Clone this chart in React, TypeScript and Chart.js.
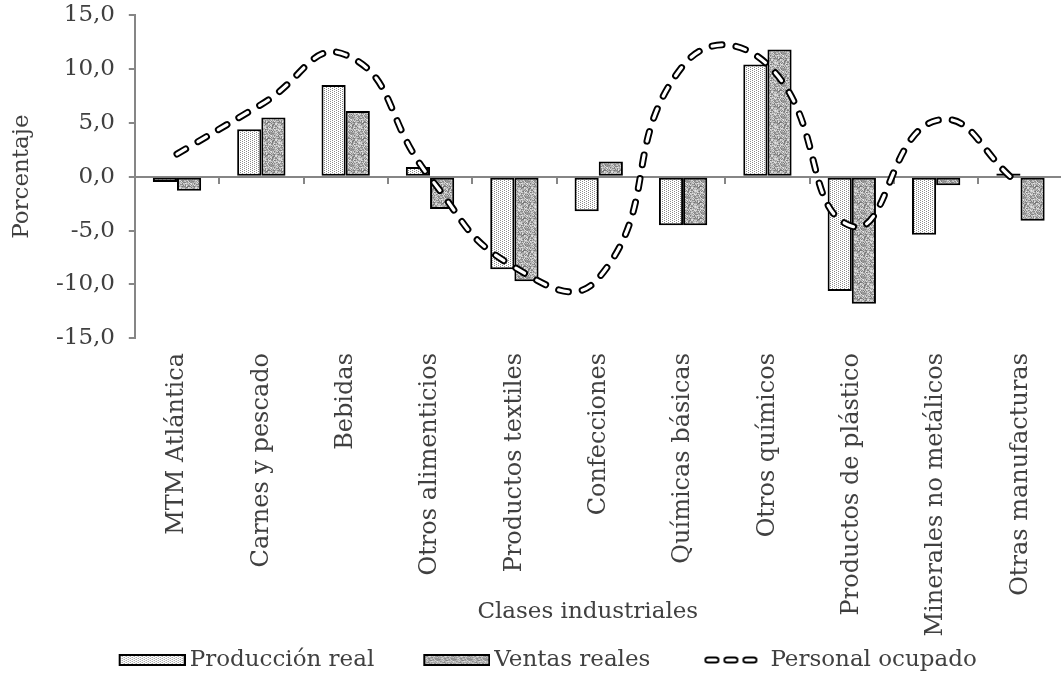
import React, { useEffect, useRef } from 'react';
import { Chart, registerables } from 'chart.js';

Chart.register(...registerables);

const FONT = 'DejaVu Serif';
const TEXT = '#404040';
const AXIS = '#868686';

const categories = [
  'MTM Atlántica',
  'Carnes y pescado',
  'Bebidas',
  'Otros alimenticios',
  'Productos textiles',
  'Confecciones',
  'Químicas básicas',
  'Otros químicos',
  'Productos de plástico',
  'Minerales no metálicos',
  'Otras manufacturas',
];
const produccionReal = [-0.5, 4.4, 8.5, 0.9, -8.6, -3.2, -4.5, 10.4, -10.6, -5.4, 0.3];
const ventasReales = [-1.3, 5.5, 6.1, -3.0, -9.7, 1.4, -4.5, 11.8, -11.8, -0.8, -4.1];
const personalOcupado = [2.1, 6.7, 11.3, -0.1, -8.4, -9.4, 10.3, 10.4, -4.6, 5.2, -0.8];
const yTicks = [-15, -10, -5, 0, 5, 10, 15];
const seriesNames = ['Producción real', 'Ventas reales', 'Personal ocupado'];
const xTitle = 'Clases industriales';
const yTitle = 'Porcentaje';

const LEG_W = 101; // legend slot width
const LEG_IMG_W = LEG_W + 15;
const PAD_LEFT = -10;
const Y_AXIS_W = 134.8 - PAD_LEFT;

function prodTile(): HTMLCanvasElement {
  const c = document.createElement('canvas');
  c.width = 4;
  c.height = 4;
  const g = c.getContext('2d')!;
  g.fillStyle = '#ffffff';
  g.fillRect(0, 0, 4, 4);
  g.fillStyle = '#8a8a8a';
  [[0, 0], [2, 1], [0, 2], [2, 3]].forEach(([x, y]) => g.fillRect(x, y, 1, 1));
  return c;
}

function ventasTile(): HTMLCanvasElement {
  const c = document.createElement('canvas');
  c.width = 16;
  c.height = 16;
  const g = c.getContext('2d')!;
  let s = 12345;
  for (let y = 0; y < 16; y++) {
    for (let x = 0; x < 16; x++) {
      s = (Math.imul(s, 1103515245) + 12345) >>> 0;
      const v = 115 + ((s >>> 8) % 115);
      g.fillStyle = `rgb(${v},${v},${v})`;
      g.fillRect(x, y, 1, 1);
    }
  }
  return c;
}

function legendBox(tile: HTMLCanvasElement): HTMLCanvasElement {
  const c = document.createElement('canvas');
  c.width = LEG_IMG_W;
  c.height = 12;
  const g = c.getContext('2d')!;
  const x0 = LEG_IMG_W - 67;
  g.fillStyle = g.createPattern(tile, 'repeat')!;
  g.fillRect(x0, 0, 67, 12);
  g.strokeStyle = '#000';
  g.lineWidth = 2;
  g.strokeRect(x0 + 1, 1, 65, 10);
  return c;
}

function legendLine(): HTMLCanvasElement {
  const c = document.createElement('canvas');
  c.width = LEG_IMG_W;
  c.height = 12;
  const g = c.getContext('2d')!;
  g.lineCap = 'round';
  const end = LEG_IMG_W - 9;
  [end - 53, end - 34, end - 15].forEach((a) => {
    g.strokeStyle = '#000';
    g.lineWidth = 7;
    g.beginPath();
    g.moveTo(a + 3.5, 6);
    g.lineTo(a + 11.5, 6);
    g.stroke();
    g.strokeStyle = '#fff';
    g.lineWidth = 3.2;
    g.beginPath();
    g.moveTo(a + 3.5, 6);
    g.lineTo(a + 11.5, 6);
    g.stroke();
  });
  return c;
}

export default function App() {
  const ref = useRef<HTMLCanvasElement>(null);

  useEffect(() => {
    const canvas = ref.current!;
    const ctx = canvas.getContext('2d')!;
    Chart.defaults.font.family = FONT;
    const pTile = prodTile();
    const vTile = ventasTile();
    const prodPattern = ctx.createPattern(pTile, 'repeat');
    const ventPattern = ctx.createPattern(vTile, 'repeat');
    const legendImgs = [legendBox(pTile), legendBox(vTile), legendLine()];

    const lineCommon = {
      borderDash: [10, 14],
      borderCapStyle: 'round',
      borderJoinStyle: 'round',
      tension: 0.5,
      pointRadius: 0,
      pointHoverRadius: 0,
      fill: false,
    };

    const chart = new Chart(ctx, {
      type: 'bar',
      data: {
        labels: categories,
        datasets: [
          {
            type: 'bar',
            label: seriesNames[0],
            data: produccionReal,
            backgroundColor: prodPattern,
            borderColor: '#000',
            borderWidth: 2,
            borderSkipped: false,
            barPercentage: 1,
            categoryPercentage: 0.573,
            order: 2,
          },
          {
            type: 'bar',
            label: seriesNames[1],
            data: ventasReales,
            backgroundColor: ventPattern,
            borderColor: '#000',
            borderWidth: 2,
            borderSkipped: false,
            barPercentage: 1,
            categoryPercentage: 0.573,
            order: 2,
          },
          {
            type: 'line',
            label: seriesNames[2],
            data: personalOcupado,
            borderColor: '#000000',
            borderWidth: 7,
            order: 1,
            ...lineCommon,
          },
          {
            type: 'line',
            label: '_inner',
            data: personalOcupado,
            borderColor: '#ffffff',
            borderWidth: 3.2,
            order: 0,
            ...lineCommon,
          },
        ],
      } as any,
      options: {
        responsive: false,
        animation: false,
        devicePixelRatio: 1,
        events: [],
        layout: { padding: { left: PAD_LEFT, top: 15, right: 0, bottom: 8.5 } },
        scales: {
          x: {
            type: 'category',
            position: 'bottom',
            offset: true,
            afterFit: (s: any) => {
              s.height = 302.7;
            },
            border: { display: false },
            grid: { display: false, drawTicks: false },
            ticks: {
              autoSkip: false,
              minRotation: 90,
              maxRotation: 90,
              padding: 14.7,
              color: TEXT,
              font: { family: FONT, size: 24 },
            },
            title: {
              display: true,
              text: xTitle + '\u00a0\u00a0\u00a0',
              color: TEXT,
              font: { family: FONT, size: 23 },
              padding: { top: 0, bottom: 15.2 },
            },
          },
          x2: {
            type: 'category',
            position: { y: 0 },
            offset: true,
            grid: {
              offset: true,
              drawOnChartArea: false,
              drawTicks: true,
              tickLength: 6,
              color: AXIS,
              lineWidth: 2,
            },
            border: { display: true, color: AXIS, width: 2 },
            ticks: { display: false },
          },
          y: {
            type: 'linear',
            min: yTicks[0],
            max: yTicks[yTicks.length - 1],
            afterBuildTicks: (s: any) => {
              s.ticks = yTicks.map((v) => ({ value: v }));
            },
            afterFit: (s: any) => {
              s.width = Y_AXIS_W;
              s.paddingTop = 0;
              s.paddingBottom = 0;
            },
            border: { display: true, color: AXIS, width: 2 },
            grid: {
              drawOnChartArea: false,
              drawTicks: true,
              tickLength: 6,
              color: AXIS,
              lineWidth: 2,
            },
            ticks: {
              padding: 13.8,
              color: TEXT,
              font: { family: FONT, size: 23 },
              callback: (v: any) => Number(v).toFixed(1).replace('.', ','),
            },
            title: {
              display: true,
              text: yTitle,
              color: TEXT,
              font: { family: FONT, size: 23 },
              padding: { top: 22 - PAD_LEFT - 13.8, bottom: 0 },
            },
          },
        },
        plugins: {
          tooltip: { enabled: false },
          legend: {
            position: 'bottom',
            fullSize: true,
            labels: {
              usePointStyle: true,
              pointStyleWidth: LEG_W,
              boxHeight: 12,
              padding: 7.5,
              color: TEXT,
              font: { family: FONT, size: 23 },
              sort: (a: any, b: any) => a.datasetIndex - b.datasetIndex,
              generateLabels: (c: any) =>
                (Chart.defaults.plugins.legend.labels.generateLabels as any)(c)
                  .filter((it: any) => it.datasetIndex < 3)
                  .sort((a: any, b: any) => a.datasetIndex - b.datasetIndex)
                  .map((it: any) => ({ ...it, pointStyle: legendImgs[it.datasetIndex], fontColor: TEXT })),
            },
          },
        },
      } as any,
    });
    return () => chart.destroy();
  }, []);

  return (
    <div style={{ position: 'absolute', left: 0, top: 0, width: 1061, height: 678, overflow: 'hidden' }}>
      <canvas ref={ref} width={1064} height={690} style={{ display: 'block' }} />
    </div>
  );
}
